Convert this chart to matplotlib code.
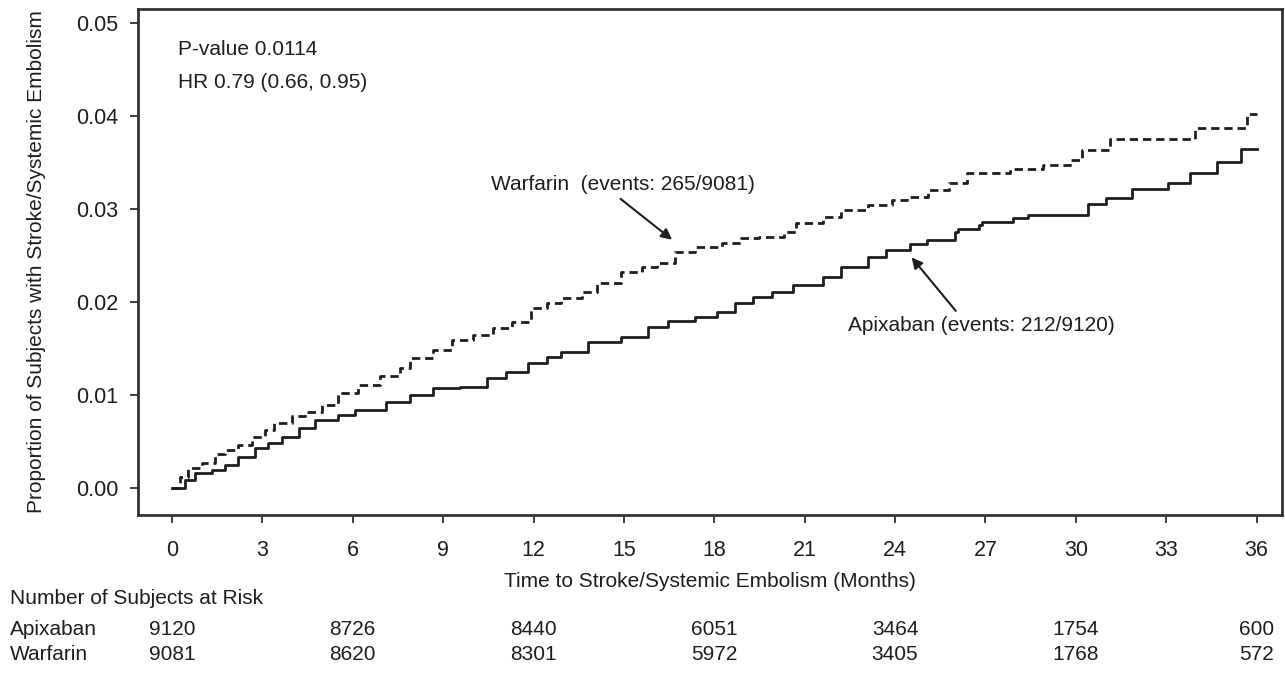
import matplotlib
matplotlib.use('Agg')
import matplotlib.pyplot as plt
import matplotlib.transforms as mtransforms

plt.rcParams['font.family'] = ['Liberation Sans', 'DejaVu Sans']
plt.rcParams['lines.scale_dashes'] = False

# Kaplan-Meier cumulative event curves
warf_t = [0, 0.27, 0.53, 1.0, 1.43, 1.76, 2.2, 2.65, 3.1, 3.4, 3.98, 4.4, 4.97, 5.5, 6.17,
          6.9, 7.56, 7.9, 8.66, 9.3, 10.0, 10.65, 11.3, 11.9, 12.45, 12.9, 13.6, 14.1, 14.9,
          15.6, 16.1, 16.7, 17.35, 18.25, 18.9, 19.5, 20.3, 20.7, 21.6, 22.2, 23.1, 23.9,
          24.4, 25.1, 25.8, 26.4, 27.8, 28.9, 29.8, 30.2, 31.15, 33.95, 35.7, 36.0]
warf_v = [0, 0.0012, 0.0022, 0.0027, 0.0037, 0.0041, 0.0046, 0.0055, 0.0062, 0.0070, 0.0077,
          0.0082, 0.0089, 0.0102, 0.0111, 0.0120, 0.0129, 0.0140, 0.0148, 0.0159, 0.0164,
          0.0172, 0.0179, 0.0194, 0.0199, 0.0204, 0.0211, 0.0220, 0.0232, 0.0238, 0.0242,
          0.0254, 0.0259, 0.0263, 0.0269, 0.0270, 0.0275, 0.0285, 0.0291, 0.0299, 0.0304,
          0.0310, 0.0313, 0.0320, 0.0328, 0.0339, 0.0343, 0.0347, 0.0353, 0.0363, 0.0375,
          0.0387, 0.0402, 0.0402]

apix_t = [0, 0.43, 0.76, 1.33, 1.76, 2.2, 2.75, 3.2, 3.65, 4.2, 4.74, 5.5, 6.07, 7.1, 7.9,
          8.66, 9.55, 10.45, 11.1, 11.8, 12.45, 12.9, 13.8, 14.9, 15.8, 16.45, 17.35, 18.1,
          18.7, 19.3, 19.9, 20.6, 21.6, 22.2, 23.1, 23.7, 24.5, 25.05, 26.0, 26.1, 26.8, 26.9,
          27.9, 28.4, 30.4, 31.0, 31.85, 33.05, 33.8, 34.7, 35.5, 36.0]
apix_v = [0, 0.0009, 0.0016, 0.0019, 0.0025, 0.0033, 0.0043, 0.0048, 0.0055, 0.0064, 0.0073,
          0.0079, 0.0084, 0.0093, 0.0100, 0.0107, 0.0109, 0.0118, 0.0125, 0.0134, 0.0141,
          0.0146, 0.0157, 0.0162, 0.0173, 0.0180, 0.0184, 0.0189, 0.0199, 0.0205, 0.0211,
          0.0218, 0.0227, 0.0238, 0.0248, 0.0256, 0.0262, 0.0267, 0.0275, 0.0279, 0.0283,
          0.0286, 0.0290, 0.0294, 0.0305, 0.0312, 0.0321, 0.0328, 0.0339, 0.0351, 0.0364,
          0.0364]

# number at risk table
risk_months = [0, 6, 12, 18, 24, 30, 36]
risk_apix = [9120, 8726, 8440, 6051, 3464, 1754, 600]
risk_warf = [9081, 8620, 8301, 5972, 3405, 1768, 572]

ink = '#1e1e1e'
fs = 15

fig = plt.figure(figsize=(12.85, 6.73), dpi=100)
ax = fig.add_axes([0.1074, 0.2348, 0.8906, 0.7518])

ax.plot(warf_t, warf_v, drawstyle='steps-post', color=ink, lw=2.0,
        linestyle=(0, (6, 3.5)))
ax.plot(apix_t, apix_v, drawstyle='steps-post', color=ink, lw=2.0)

ax.set_xlim(-1.13, 36.86)
ax.set_ylim(-0.0029, 0.0515)
ax.set_xticks(range(0, 37, 3))
ax.set_yticks([0, 0.01, 0.02, 0.03, 0.04, 0.05])
ax.set_yticklabels(['0.00', '0.01', '0.02', '0.03', '0.04', '0.05'])
ax.tick_params(axis='both', labelsize=15.5, colors=ink, length=6, width=1.2)
ax.tick_params(axis='x', pad=12)
ax.tick_params(axis='y', pad=8)
for sp in ax.spines.values():
    sp.set_linewidth(2.0)
    sp.set_color('#333333')

ax.set_ylabel('Proportion of Subjects with Stroke/Systemic Embolism', fontsize=15,
              color=ink, labelpad=22)
ax.set_xlabel('Time to Stroke/Systemic Embolism (Months)', fontsize=fs, color=ink,
              labelpad=8)

ax.text(0.2, 0.0471, 'P-value 0.0114', fontsize=fs, color=ink, va='center')
ax.text(0.2, 0.0436, 'HR 0.79 (0.66, 0.95)', fontsize=fs, color=ink, va='center')

ax.annotate('Warfarin  (events: 265/9081)', xy=(16.6, 0.0267), xytext=(10.58, 0.0326),
            fontsize=fs, color=ink, va='center', ha='left',
            arrowprops=dict(arrowstyle='-|>', color=ink, lw=1.5, mutation_scale=16,
                            shrinkA=2, shrinkB=0, relpos=(0.47, 0.0)))
ax.annotate('Apixaban (events: 212/9120)', xy=(24.55, 0.0248), xytext=(22.43, 0.0175),
            fontsize=fs, color=ink, va='center', ha='left',
            arrowprops=dict(arrowstyle='-|>', color=ink, lw=1.5, mutation_scale=16,
                            shrinkA=2, shrinkB=0, relpos=(0.42, 1.0)))

# risk table under the axis
trans = mtransforms.blended_transform_factory(ax.transData, fig.transFigure)
fig.text(0.008, 0.111, 'Number of Subjects at Risk', fontsize=fs, color=ink, va='center')
fig.text(0.008, 0.064, 'Apixaban', fontsize=fs, color=ink, va='center')
fig.text(0.008, 0.027, 'Warfarin', fontsize=fs, color=ink, va='center')
for m, a, w in zip(risk_months, risk_apix, risk_warf):
    ax.text(m, 0.064, str(a), transform=trans, fontsize=fs, color=ink,
            ha='center', va='center', clip_on=False)
    ax.text(m, 0.027, str(w), transform=trans, fontsize=fs, color=ink,
            ha='center', va='center', clip_on=False)

fig.savefig('out.png', dpi=100)
